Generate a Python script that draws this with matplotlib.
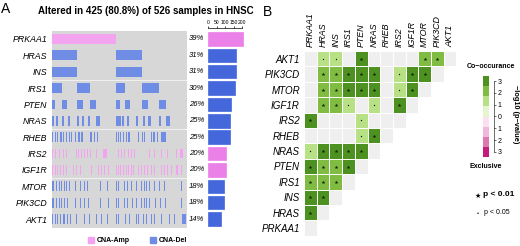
import numpy as np
import matplotlib
matplotlib.use("Agg")
import matplotlib.pyplot as plt
from matplotlib.patches import Rectangle

plt.rcParams['font.family'] = ['Liberation Sans', 'DejaVu Sans']

W, H = 520, 246

# ---- panel A data (oncoprint, 425 altered samples shown) ----
n_shown = 425
onco_genes = ["PRKAA1", "HRAS", "INS", "IRS1", "PTEN", "NRAS",
              "RHEB", "IRS2", "IGF1R", "MTOR", "PIK3CD", "AKT1"]
onco_type = ["amp", "del", "del", "del", "del", "del",
             "del", "amp", "amp", "del", "del", "del"]
onco_pct = [39, 31, 31, 30, 26, 25, 25, 20, 20, 18, 18, 14]
onco_count = [205, 163, 163, 158, 137, 132, 131, 105, 105, 95, 95, 74]

# altered sample blocks: (first sample, number of samples)
prkaa1_alt = [(0, 205)]
hras_alt = [(0, 80), (205, 82)]
ins_alt = [(0, 80), (205, 82)]
irs1_alt = [(0, 32), (80, 41), (205, 28), (287, 54)]
pten_alt = [(0, 12), (32, 17), (80, 21), (121, 20), (205, 10), (233, 15),
            (287, 17), (341, 21)]
nras_alt = [(0, 7), (15, 7), (33, 8), (52, 8), (80, 8), (96, 7), (115, 7),
            (141, 13), (205, 7), (213, 7), (223, 7), (239, 7), (267, 7),
            (288, 7), (304, 9), (339, 7), (362, 12)]
rheb_alt = [(1, 4), (10, 4), (18, 4), (28, 4), (36, 4), (45, 4), (54, 4),
            (62, 4), (73, 4), (85, 4), (94, 4), (123, 4), (134, 4), (144, 4),
            (204, 4), (209, 4), (217, 4), (226, 4), (234, 4), (243, 6),
            (274, 4), (285, 4), (293, 4), (314, 4), (322, 4), (333, 4),
            (345, 16)]
irs2_alt = [(1, 3), (12, 3), (23, 3), (36, 3), (47, 3), (57, 3), (78, 3),
            (85, 3), (94, 3), (102, 3), (113, 3), (123, 3), (141, 3),
            (162, 12), (209, 3), (220, 3), (230, 3), (241, 3), (251, 3),
            (262, 3), (309, 3), (324, 3), (345, 3), (366, 3), (393, 3),
            (405, 9)]
igf1r_alt = [(1, 3), (10, 3), (18, 3), (26, 3), (36, 3), (47, 3), (57, 3),
             (68, 3), (78, 3), (89, 3), (125, 3), (136, 3), (146, 3),
             (157, 3), (167, 3), (178, 3), (204, 3), (209, 3), (217, 3),
             (226, 3), (234, 3), (243, 3), (251, 3), (259, 3), (272, 3),
             (282, 3), (293, 3), (303, 3), (314, 3), (324, 3), (335, 3),
             (345, 3), (356, 3), (366, 3), (377, 3), (393, 8), (408, 3)]
mtor_alt = [(1, 8), (15, 3), (23, 3), (31, 3), (39, 3), (47, 3), (54, 3),
            (75, 3), (89, 3), (102, 3), (113, 3), (136, 3), (152, 3),
            (176, 3), (204, 3), (209, 3), (230, 3), (240, 3), (251, 3),
            (267, 3), (282, 3), (291, 3), (299, 3), (308, 3), (316, 3),
            (324, 3), (340, 3), (356, 3), (408, 3)]
pik3cd_alt = [(1, 8), (15, 3), (23, 3), (31, 3), (41, 3), (49, 3),
              (75, 3), (89, 3), (102, 3), (115, 3), (136, 3), (152, 3),
              (178, 3), (204, 3), (209, 3), (230, 3), (240, 3), (253, 3),
              (267, 3), (282, 3), (291, 3), (299, 3), (308, 3), (316, 3),
              (326, 3), (342, 3), (358, 3), (410, 3)]
akt1_alt = [(1, 3), (10, 3), (18, 3), (26, 3), (36, 6), (50, 3), (60, 3),
            (78, 3), (104, 3), (120, 3), (141, 3), (157, 3), (176, 3),
            (204, 3), (209, 3), (232, 3), (246, 3), (267, 3), (274, 3),
            (288, 3), (298, 3), (314, 3), (324, 3), (345, 3), (372, 3),
            (387, 3), (413, 12)]
onco_blocks = [prkaa1_alt, hras_alt, ins_alt, irs1_alt, pten_alt, nras_alt,
               rheb_alt, irs2_alt, igf1r_alt, mtor_alt, pik3cd_alt, akt1_alt]

# ---- panel B data (co-occurrence, lower triangle) ----
heat_rows = ["AKT1", "PIK3CD", "MTOR", "IGF1R", "IRS2", "RHEB",
             "NRAS", "PTEN", "IRS1", "INS", "HRAS", "PRKAA1"]
heat_cols = ["PRKAA1", "HRAS", "INS", "IRS1", "PTEN", "NRAS",
             "RHEB", "IRS2", "IGF1R", "MTOR", "PIK3CD", "AKT1"]
# -log10(p) level for co-occurrence (0 = not significant)
heat_level = [
    [0, 1, 1, 0, 3, 0, 0, 0, 0, 2, 2, 0],
    [0, 2, 2, 3, 3, 3, 0, 1, 3, 3, 0],
    [0, 2, 2, 3, 3, 3, 0, 1, 3, 0],
    [0, 2, 2, 1, 0, 1, 0, 3, 0],
    [3, 0, 0, 0, 1, 0, 0, 0],
    [0, 0, 0, 0, 1, 3, 0],
    [1, 3, 3, 3, 3, 0],
    [3, 2, 2, 3, 0],
    [2, 2, 2, 0],
    [3, 3, 0],
    [3, 0],
    [0],
]
# 2 = p < 0.01, 1 = p < 0.05
heat_sig = [
    [0, 1, 1, 0, 2, 0, 0, 0, 0, 2, 2, 0],
    [0, 2, 2, 2, 2, 2, 0, 1, 2, 2, 0],
    [0, 2, 2, 2, 2, 2, 0, 1, 2, 0],
    [0, 2, 2, 1, 0, 1, 0, 2, 0],
    [2, 0, 0, 0, 1, 0, 0, 0],
    [0, 0, 0, 0, 1, 2, 0],
    [1, 2, 2, 2, 2, 0],
    [2, 2, 2, 2, 0],
    [2, 2, 2, 0],
    [2, 2, 0],
    [2, 0],
    [0],
]
cb_labels = ["3", "2", "1", "0", "1", "2", "3"]

amp_col = "#f3a3ef"
del_col = "#6f8de4"
amp_bar = "#ea80e8"
del_bar = "#4467dc"
level_cols = ["#efefef", "#b8e186", "#7fbc41", "#4d9221"]
cb_cols = ["#c51b7d", "#de77ae", "#f1b6da", "#fde0ef",
           "#e6f5d0", "#b8e186", "#7fbc41", "#4d9221"]


def px_axes(fig, x0, y0, x1, y1):
    return fig.add_axes([x0 / W, 1 - y1 / H, (x1 - x0) / W, (y1 - y0) / H])


fig = plt.figure(figsize=(W / 100, H / 100), dpi=100)

# ---------------- panel A ----------------
fig.text(1 / W, 1 - 9 / H, "A", fontsize=10, va="center", ha="left")
fig.text(146 / W, 1 - 11 / H, "Altered in 425 (80.8%) of 526 samples in HNSC",
         fontsize=7, fontweight="bold", ha="center", va="center")

ax = px_axes(fig, 51.5, 30.8, 186, 227.2)
n = len(onco_genes)
for i in range(n):
    ax.broken_barh([(0, n_shown)], (i + 0.04, 0.92), color="#d7d7d7")
    c = amp_col if onco_type[i] == "amp" else del_col
    ax.broken_barh(onco_blocks[i], (i + 0.2, 0.6), color=c, lw=0)
ax.set_xlim(0, n_shown)
ax.set_ylim(n, 0)
ax.set_xticks([])
ax.set_yticks(np.arange(n) + 0.5)
ax.set_yticklabels(onco_genes, fontsize=6.3, style="italic")
ax.tick_params(axis="y", length=0, pad=3)
for s in ax.spines.values():
    s.set_visible(False)

axb = px_axes(fig, 208, 30.8, 250, 227.2)
bar_colors = [amp_bar if t == "amp" else del_bar for t in onco_type]
axb.barh(np.arange(n) + 0.5, onco_count, height=0.82, color=bar_colors,
         edgecolor=bar_colors, lw=0.5)
for i, p in enumerate(onco_pct):
    axb.text(-0.09, i + 0.5, f"{p}%", transform=axb.get_yaxis_transform(),
             ha="right", va="center", fontsize=5.6, style="italic")
axb.set_xlim(0, 247)
axb.set_ylim(n, 0)
axb.xaxis.tick_top()
axb.set_xticks([0, 50, 100, 150, 200])
axb.tick_params(axis="x", labelsize=3.6, length=1.5, width=0.5, pad=0.5)
axb.set_yticks([])
for k in ["left", "right", "bottom"]:
    axb.spines[k].set_visible(False)
axb.spines["top"].set_linewidth(0.5)
axb.spines["top"].set_position(("outward", 2))
axb.spines["top"].set_bounds(0, 200)

# legend A
for x0, col, lab in [(88, amp_col, "CNA-Amp"), (150, del_col, "CNA-Del")]:
    fig.patches.append(Rectangle((x0 / W, 1 - 243 / H), 6 / W, 6 / H,
                                 transform=fig.transFigure, color=col))
    fig.text((x0 + 9) / W, 1 - 240 / H, lab, fontsize=5,
             fontweight="bold", va="center", ha="left")

# ---------------- panel B ----------------
fig.text(263 / W, 1 - 12 / H, "B", fontsize=10, va="center", ha="left")

axh = px_axes(fig, 304, 51, 456.4, 235.8)
m = len(heat_rows)
for i in range(m):
    for j, lv in enumerate(heat_level[i]):
        axh.add_patch(Rectangle((j, i), 1, 1, facecolor=level_cols[lv],
                                edgecolor="white", lw=0.7))
        if heat_sig[i][j] == 2:
            axh.plot(j + 0.5, i + 0.5, marker="*", ms=2.8, color="#111a0a",
                     mew=0)
        elif heat_sig[i][j] == 1:
            axh.plot(j + 0.5, i + 0.5, marker="o", ms=1.0, color="#111a0a",
                     mew=0)
axh.set_xlim(0, m)
axh.set_ylim(m, 0)
axh.xaxis.tick_top()
axh.set_xticks(np.arange(m) + 0.5)
axh.set_xticklabels(heat_cols, rotation=90, fontsize=6.4, style="italic")
axh.set_yticks(np.arange(m) + 0.5)
axh.set_yticklabels(heat_rows, fontsize=7, style="italic")
axh.tick_params(length=0, pad=3)
for s in axh.spines.values():
    s.set_visible(False)

# colour bar
axc = px_axes(fig, 483, 76, 488.5, 157)
for k, col in enumerate(cb_cols):
    axc.add_patch(Rectangle((0, k), 1, 1, facecolor=col, lw=0))
axc.set_xlim(0, 1)
axc.set_ylim(0, 8)
axc.set_xticks([])
axc.yaxis.tick_right()
ticks = np.linspace(7.5, 0.5, len(cb_labels))
axc.set_yticks(ticks)
axc.set_yticklabels(cb_labels)
axc.tick_params(axis="y", labelsize=5, length=1.5, width=0.4, pad=1)
for k in ["left", "top", "bottom"]:
    axc.spines[k].set_visible(False)
axc.spines["right"].set_position(("outward", 4))
axc.spines["right"].set_bounds(0.5, 7.5)
axc.spines["right"].set_linewidth(0.4)

fig.text(491 / W, 1 - 67 / H, "Co\u2212occurance", fontsize=5,
         fontweight="bold", ha="center", va="center")
fig.text(486 / W, 1 - 166 / H, "Exclusive", fontsize=5,
         fontweight="bold", ha="center", va="center")
fig.text(515 / W, 1 - 114 / H, "\u2212log10 (p\u2212value)", fontsize=5.3,
         fontweight="bold", rotation=270, ha="center", va="center")

fig.text(478 / W, 1 - 196 / H, "\u2605", fontsize=5, ha="center",
         va="center", family=["DejaVu Sans"])
fig.text(483 / W, 1 - 195 / H, "p < 0.01", fontsize=6, fontweight="bold",
         ha="left", va="center")
fig.text(478 / W, 1 - 213 / H, "\u2022", fontsize=4, ha="center",
         va="center")
fig.text(484 / W, 1 - 213 / H, "p < 0.05", fontsize=5, ha="left",
         va="center")

fig.savefig("out.png", dpi=100)
